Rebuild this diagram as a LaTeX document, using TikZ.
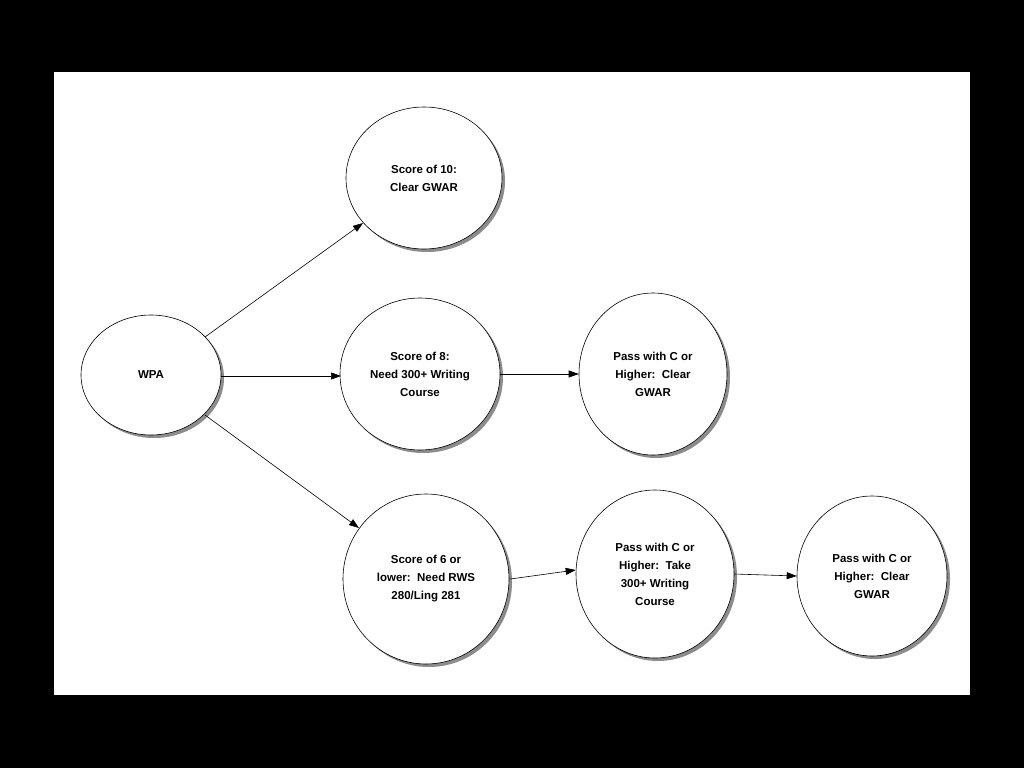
\documentclass[tikz,border=0pt]{standalone}
\usepackage{fontspec}
\setmainfont{Liberation Sans}
\usetikzlibrary{shapes.geometric,shadows,arrows.meta}
\begin{document}
\begin{tikzpicture}[x=1pt,y=-1pt,
  bub/.style={ellipse,draw=black,line width=0.6pt,fill=white,inner sep=0pt,align=center,
    font=\fontsize{11.5}{18}\selectfont\bfseries,
    drop shadow={shadow xshift=3pt,shadow yshift=-3pt,fill=black!45,opacity=1}},
  arr/.style={-{Triangle[length=10pt,width=7pt]},line width=0.6pt}]
\useasboundingbox (0,0) rectangle (1024,768);
\fill[black] (0,0) rectangle (1024,768);
\fill[white] (54,72) rectangle (970,695);
\node[bub,minimum width=140pt,minimum height=120pt] (wpa) at (151,375) {WPA};
\node[bub,minimum width=156pt,minimum height=142pt] (s10) at (424,178) {Score of 10:\\Clear GWAR};
\node[bub,minimum width=160pt,minimum height=152pt] (s8) at (420,374) {Score of 8:\\Need 300+ Writing\\Course};
\node[bub,minimum width=148pt,minimum height=162pt] (p1) at (653,374) {Pass with C or\\Higher:\ \ Clear\\GWAR};
\node[bub,minimum width=166pt,minimum height=170pt] (s6) at (426,579) {Score of 6 or\\lower:\ \ Need RWS\\280/Ling 281};
\node[bub,minimum width=158pt,minimum height=168pt] (p2) at (655,574) {Pass with C or\\Higher:\ \ Take\\300+ Writing\\Course};
\node[bub,minimum width=150pt,minimum height=160pt] (p3) at (872,576) {Pass with C or\\Higher:\ \ Clear\\GWAR};
\coordinate (a1) at (205,337); \coordinate (b1) at (363,223);
\coordinate (a2) at (221,376); \coordinate (b2) at (341,376);
\coordinate (a3) at (205,415); \coordinate (b3) at (359,528);
\draw[arr] (a1) -- (b1);
\draw[arr] (a2) -- (b2);
\draw[arr] (a3) -- (b3);
\draw[arr] (s8.east) -- (p1.west);
\draw[arr] ([xshift=1pt]s6.east) -- ([yshift=4pt]p2.west);
\draw[arr] (p2.east) -- (p3.west);
\end{tikzpicture}
\end{document}
